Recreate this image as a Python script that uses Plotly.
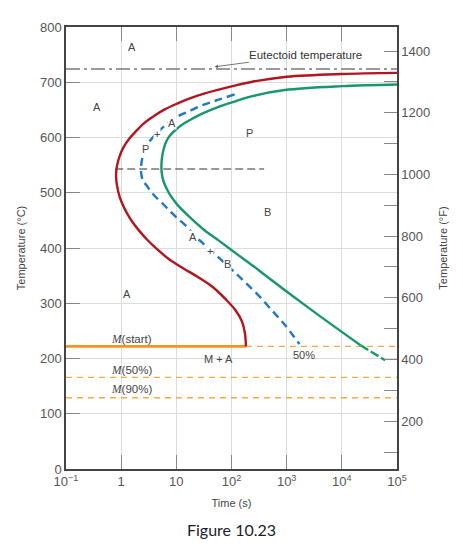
import math

import plotly.graph_objects as go

# -------------------------------------------------
# Data (time in s, temperature in degC)
# -------------------------------------------------

red_time = [1e5, 1e4, 1005, 239, 105, 30.7, 16.6, 10.1, 5.94, 3.94, 2.61, 1.88,
            1.41, 1.10, 0.936, 0.845, 0.811, 0.82, 0.863, 0.936, 1.06, 1.27, 1.60,
            2.13, 2.96, 4.46, 7.29, 13.5, 25.0, 46.2, 78.9, 119, 155, 175, 183]
red_temp = [717, 715, 710, 701, 693, 679, 670, 661, 650, 639, 626, 612,
            598, 582, 566, 550, 536, 521, 507, 493, 479, 463, 447,
            431, 415, 398, 380, 363, 347, 329, 307, 287, 267, 246, 222]

blue_time = [114, 56.8, 30.7, 16.6, 10.1, 6.45, 4.46, 3.34, 2.72, 2.41, 2.29,
             2.33, 2.51, 2.90, 3.48, 4.37, 5.59, 7.29, 9.72, 14.7, 23.0, 30.7,
             56.8, 120, 181, 318, 542, 925, 1710]
blue_temp = [678, 668, 659, 647, 637, 623, 608, 594, 578, 562, 546,
             532, 521, 513, 502, 491, 481, 469, 457, 441, 420, 408,
             384, 354, 337, 313, 287, 261, 226]

green_time = [1e5, 1e4, 925, 239, 105, 56.8, 30.7, 20.3, 13.5, 9.72, 7.60, 6.45,
              5.82, 5.47, 5.36, 5.40, 5.59, 5.94, 6.58, 7.60, 10.3, 16.6, 30.7,
              61.7, 129, 259, 391, 2800, 21800]
green_temp = [696, 693, 686, 675, 664, 655, 644, 635, 625, 614, 603, 591,
              577, 562, 548, 539, 529, 519, 509, 497, 479, 458, 434,
              412, 388, 366, 352, 288, 224]
green_tail_time = [21800, 60800]
green_tail_temp = [224, 197]

time_range = [0.1, 1e5]
eutectoid_temp = 724
nose_time = [0.78, 390]
nose_temp = 543
m_start_time = 183
m_start_temp = 222
m50_temp = 166
m90_temp = 129

x_tickvals = [0.1, 1, 10, 100, 1e3, 1e4, 1e5]
x_ticktext = ["10<sup>\u22121</sup>", "1", "10", "10<sup>2</sup>",
              "10<sup>3</sup>", "10<sup>4</sup>", "10<sup>5</sup>"]
f_tickvals = list(range(100, 1500, 100))
f_ticktext = [str(v) if v % 200 == 0 else "" for v in f_tickvals]

# region labels: (text, time, temp)
region_labels = [
    ("A", 1.6, 763), ("A", 0.36, 656), ("A", 1.25, 317),
    ("P", 211, 608), ("B", 441, 466), ("M + A", 57, 199),
    ("50%", 2020, 206),
]
# labels sitting on the 50% curve
curve_labels = [
    ("A", 8.25, 626), ("+", 4.5, 606), ("P", 2.8, 579),
    ("A", 20.3, 420), ("+", 40.8, 395), ("B", 83, 371),
]
# martensite labels: (suffix, time, temp)
m_labels = [("(start)", 1.53, 235), ("(50%)", 1.53, 180), ("(90%)", 1.53, 144)]

RED = "#b3151f"
BLUE = "#1f78c4"
GREEN = "#17976a"
ORANGE = "#f7931e"
ORANGE_LIGHT = "#f8a944"
GREY = "#555555"
TEXT = "#444444"
FONT = "Liberation Sans"

fig = go.Figure()


def hline(x, y, color, width, dash):
    fig.add_trace(go.Scatter(x=x, y=y, mode="lines", hoverinfo="skip",
                             line=dict(color=color, width=width, dash=dash),
                             showlegend=False))


def curve(x, y, color, dash="solid"):
    fig.add_trace(go.Scatter(x=x, y=y, mode="lines", hoverinfo="skip",
                             line=dict(color=color, width=2.4, dash=dash,
                                       shape="spline", smoothing=1.0),
                             showlegend=False))


# reference lines
hline(time_range, [eutectoid_temp] * 2, "#7a7a7a", 1.5, "14px,4px,3px,4px")
hline(nose_time, [nose_temp] * 2, "#333333", 1.1, "8px,4px")
hline([time_range[0], m_start_time], [m_start_temp] * 2, ORANGE, 2.6, "solid")
hline([m_start_time, time_range[1]], [m_start_temp] * 2, ORANGE_LIGHT, 1.3, "6px,5px")
hline(time_range, [m50_temp] * 2, ORANGE_LIGHT, 1.3, "6px,5px")
hline(time_range, [m90_temp] * 2, ORANGE_LIGHT, 1.3, "6px,5px")

# transformation curves
curve(red_time, red_temp, RED)
curve(blue_time, blue_temp, BLUE, "8px,5px")
curve(green_time, green_temp, GREEN)
hline(green_tail_time, green_tail_temp, GREEN, 2.4, "9px,3px")

# invisible point so the degF axis gets drawn
fig.add_trace(go.Scatter(x=[1], y=[500], yaxis="y2", mode="markers",
                         marker=dict(opacity=0), hoverinfo="skip", showlegend=False))

# -------------------------------------------------
# Text (annotations on a log axis take log10 x)
# -------------------------------------------------

for text, t, temp in region_labels:
    fig.add_annotation(x=math.log10(t), y=temp, text=text, showarrow=False,
                       font=dict(family=FONT, size=11, color=TEXT))

for text, t, temp in curve_labels:
    fig.add_annotation(x=math.log10(t), y=temp, text=text, showarrow=False,
                       bgcolor="white", borderpad=0,
                       font=dict(family=FONT, size=11, color=TEXT))

m_italic = "<span style=\"font-family:'Liberation Serif';font-style:italic\">M</span>"
for suffix, t, temp in m_labels:
    fig.add_annotation(x=math.log10(t), y=temp, text=m_italic + suffix,
                       showarrow=False, font=dict(family=FONT, size=11.5, color=TEXT))

fig.add_annotation(x=math.log10(49.6), y=728, text="Eutectoid temperature",
                   showarrow=True, arrowhead=2, arrowsize=0.8, arrowwidth=0.8,
                   arrowcolor="#555555", ax=91, ay=-12, standoff=0,
                   font=dict(family=FONT, size=11.5, color="#333333"))

fig.add_annotation(xref="paper", yref="paper", x=0.5, y=-0.136,
                   text="Figure 10.23", showarrow=False, yanchor="middle",
                   font=dict(family="Lato", size=16, color="#1b1b2f"))

# -------------------------------------------------
# Axes
# -------------------------------------------------

title_font = dict(family=FONT, size=11, color=TEXT)

fig.update_layout(
    width=455, height=538,
    margin=dict(l=53, r=66, t=12, b=77),
    paper_bgcolor="white", plot_bgcolor="white",
    font=dict(family=FONT, size=13, color=GREY),
    xaxis=dict(type="log", range=[-1, 5], tickvals=x_tickvals, ticktext=x_ticktext,
               ticks="inside", ticklen=14, tickcolor="#888888",
               showgrid=True, gridcolor="#dddddd", gridwidth=1,
               showline=True, linecolor="#444444", linewidth=1.5, mirror="ticks",
               zeroline=False,
               title=dict(text="Time (s)", standoff=11, font=title_font)),
    yaxis=dict(range=[0, 800], dtick=100, ticks="inside", ticklen=14,
               tickcolor="#888888", showgrid=True, gridcolor="#dddddd",
               showline=True, linecolor="#444444", linewidth=1.5, mirror=True,
               zeroline=False,
               title=dict(text="Temperature (\u00b0C)", standoff=12, font=title_font)),
    yaxis2=dict(overlaying="y", side="right", range=[45, 1478],
                tickvals=f_tickvals, ticktext=f_ticktext,
                ticks="inside", ticklen=13, tickcolor="#888888",
                showgrid=False, showline=True, linecolor="#444444", linewidth=1.5,
                zeroline=False,
                title=dict(text="Temperature (\u00b0F)", standoff=10, font=title_font)),
)

fig.write_html("out.html")
